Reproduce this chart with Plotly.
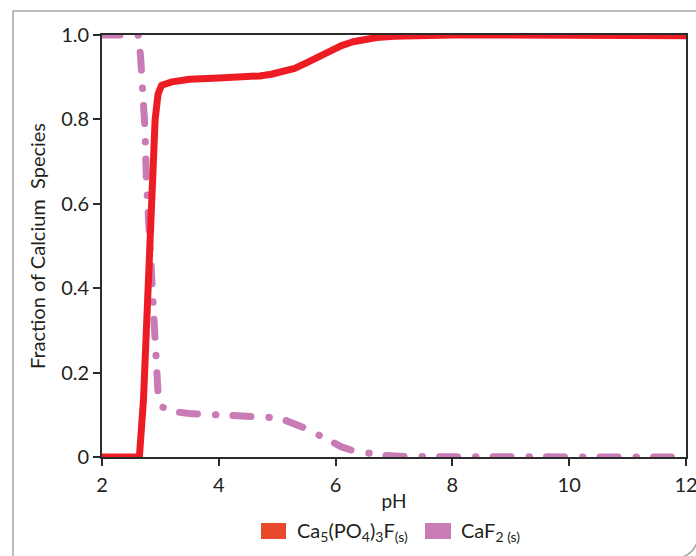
import plotly.graph_objects as go

# Fraction of calcium present as each solid phase versus pH
ph_fluorapatite = [2.0, 2.64, 2.71, 2.78, 2.85, 2.91, 2.96, 3.02, 3.2, 3.5, 4.0, 4.4,
                   4.7, 4.9, 5.1, 5.3, 5.5, 5.7, 5.9, 6.1, 6.3, 6.5, 6.7, 7.0,
                   7.4, 8.0, 9.0, 10.0, 11.0, 12.0]
frac_fluorapatite = [0.0, 0.0, 0.135, 0.40, 0.656, 0.80, 0.86, 0.881, 0.889, 0.895, 0.898, 0.900,
                     0.903, 0.907, 0.912, 0.921, 0.934, 0.949, 0.963, 0.975, 0.984, 0.990, 0.994, 0.997,
                     0.999, 1.0, 1.0, 1.0, 1.0, 0.998]

ph_fluorite = [2.0, 2.62, 2.66, 2.70, 2.735, 2.76, 2.81, 2.86, 2.91, 2.96, 3.02, 3.25,
               3.5, 3.9, 4.2, 4.5, 4.85, 5.1, 5.3, 5.5, 5.7, 5.9, 6.1, 6.3,
               6.5, 6.8, 7.2, 8.0, 9.0, 10.0, 11.0, 12.0]
frac_fluorite = [1.0, 1.0, 0.95, 0.88, 0.78, 0.656, 0.52, 0.396, 0.25, 0.15, 0.119, 0.107,
                 0.103, 0.100, 0.100, 0.098, 0.094, 0.089, 0.080, 0.067, 0.053, 0.039, 0.024, 0.015,
                 0.009, 0.004, 0.001, 0.0, 0.0, 0.0, 0.0, 0.0]

x_ticks = [2, 4, 6, 8, 10, 12]
y_ticks = [0, 0.2, 0.4, 0.6, 0.8, 1.0]
y_tick_text = ["0", "0.2", "0.4", "0.6", "0.8", "1.0"]

legend_labels = ["Ca<sub>5</sub>(PO<sub>4</sub>)<sub>3</sub>F<sub>(s)</sub>",
                 "CaF<sub>2 (s)</sub>"]

RED = "#ED1C24"
PINK = "#C87BB4"
RED_SWATCH = "#E64A2B"
AXIS = "#2b2b2b"
TEXT = "#231f20"
FONT = "Lato, 'DejaVu Sans', sans-serif"

fig = go.Figure()

fig.add_trace(go.Scatter(
    x=ph_fluorite, y=frac_fluorite, mode="lines", cliponaxis=False,
    line=dict(color=PINK, width=7, dash="18px,18px,0.5px,17px"),
    showlegend=False, hoverinfo="skip",
))
fig.add_trace(go.Scatter(
    x=ph_fluorapatite, y=frac_fluorapatite, mode="lines", cliponaxis=False,
    line=dict(color=RED, width=7),
    showlegend=False, hoverinfo="skip",
))

axis_common = dict(
    showline=True, mirror=True, linecolor=AXIS, linewidth=1.6,
    ticks="outside", ticklen=7, tickwidth=1.5, tickcolor=AXIS,
    showgrid=False, zeroline=False, layer="below traces", automargin=False,
    ticklabeloverflow="allow",
    tickfont=dict(size=20, color=TEXT, family=FONT),
)

fig.update_xaxes(range=[2, 12], tickvals=x_ticks, ticktext=[str(v) for v in x_ticks],
                 ticklabelstandoff=2,
                 title=dict(text="pH", font=dict(size=19, color=TEXT, family=FONT), standoff=0),
                 **axis_common)
fig.update_yaxes(range=[0, 1], tickvals=y_ticks, ticktext=y_tick_text,
                 title=dict(text="Fraction of Calcium\u00a0 Species",
                            font=dict(size=20, color=TEXT, family=FONT), standoff=10),
                 **axis_common)

# outer panel frame with a rounded lower-right corner
frame_path = ("M -0.1524,-0.2796 L -0.1524,1.05687 L 1.02226,1.05687 "
              "L 1.02226,-0.17062 Q 1.02226,-0.24171 0.97089,-0.24171 L -0.1524,-0.24171")
shapes = [dict(type="path", xref="paper", yref="paper", path=frame_path,
               line=dict(color="#A5A5A5", width=1.5))]

# legend swatches and labels
swatches = [(0.27226, 0.31507, RED_SWATCH, 0.33048), (0.55308, 0.59760, PINK, 0.61130)]
annotations = []
for (x0, x1, col, tx), label in zip(swatches, legend_labels):
    shapes.append(dict(type="rect", xref="paper", yref="paper", x0=x0, x1=x1,
                       y0=-0.19431, y1=-0.15640, fillcolor=col, line=dict(width=0)))
    annotations.append(dict(xref="paper", yref="paper", x=tx, y=-0.1754,
                            xanchor="left", yanchor="middle", showarrow=False,
                            text=label, font=dict(size=20, color=TEXT, family=FONT)))

fig.update_layout(
    width=696, height=556,
    margin=dict(l=102, r=10, t=35, b=99, autoexpand=False),
    paper_bgcolor="white", plot_bgcolor="white",
    shapes=shapes, annotations=annotations,
    showlegend=False,
)

post = """
var gd = document.getElementById('{plot_id}');
function styleLines() {
  gd.querySelectorAll('.cartesianlayer .plot, .cartesianlayer .plot *').forEach(function (e) {
    e.removeAttribute('clip-path');
  });
  gd.querySelectorAll('.scatterlayer .js-line').forEach(function (p) {
    p.style.strokeLinecap = 'round';
    p.style.strokeLinejoin = 'round';
  });
}
styleLines();
if (gd.on) { gd.on('plotly_afterplot', styleLines); }
setTimeout(styleLines, 50);
"""

fig.write_html("out.html", post_script=post)
